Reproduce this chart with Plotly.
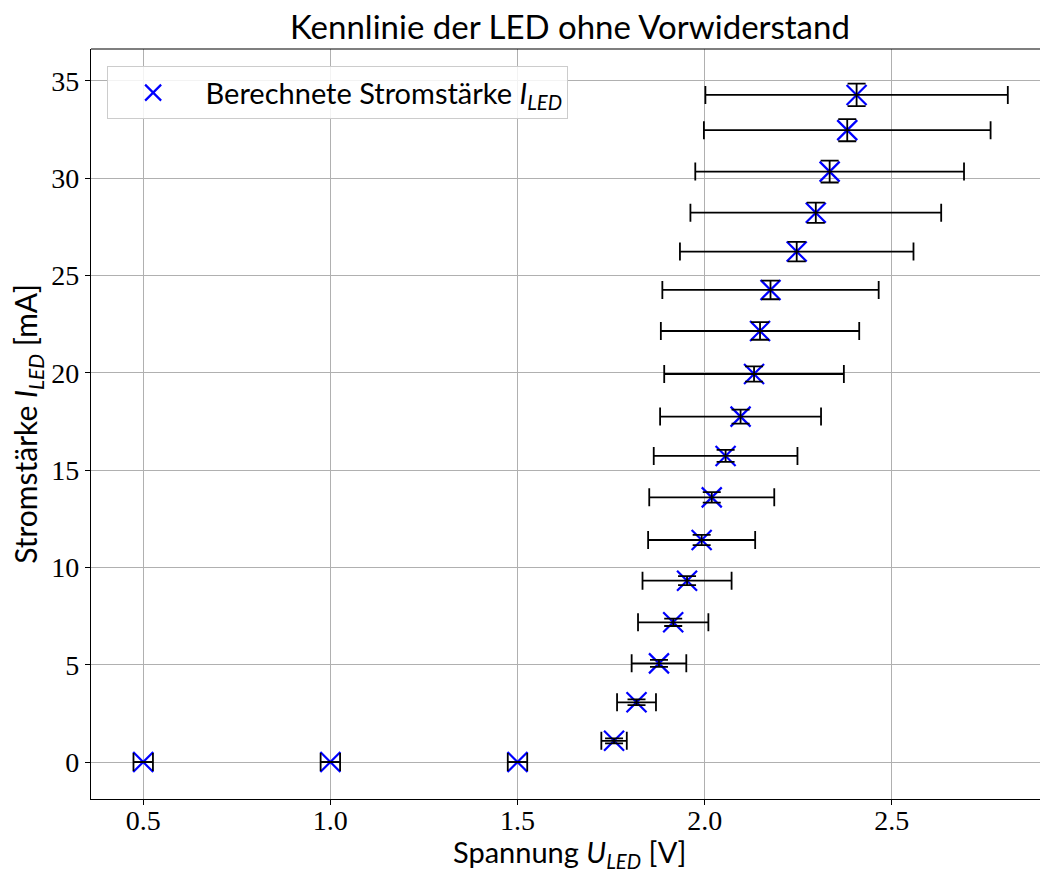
import plotly.graph_objects as go

# Data
U_led = [0.5, 1.0, 1.5, 1.758, 1.818, 1.878, 1.916, 1.953, 1.992, 2.019, 2.056,
         2.096, 2.132, 2.148, 2.176, 2.246, 2.297, 2.334, 2.381, 2.406]
I_led = [0.0, 0.0, 0.0, 1.09, 3.07, 5.07, 7.18, 9.32, 11.41, 13.60, 15.73,
         17.75, 19.94, 22.15, 24.26, 26.23, 28.23, 30.34, 32.47, 34.28]
U_err = [0.026, 0.026, 0.026, 0.034, 0.052, 0.073, 0.094, 0.119, 0.143, 0.167, 0.192,
         0.215, 0.240, 0.265, 0.289, 0.312, 0.335, 0.359, 0.383, 0.404]
I_err = [0.0, 0.0, 0.0, 0.13, 0.15, 0.18, 0.19, 0.23, 0.26, 0.27, 0.31,
         0.36, 0.39, 0.45, 0.48, 0.50, 0.52, 0.56, 0.57, 0.58]

x_ticks = [0.5, 1.0, 1.5, 2.0, 2.5]
x_ticklabels = ["0.5", "1.0", "1.5", "2.0", "2.5"]
y_ticks = [0, 5, 10, 15, 20, 25, 30, 35]

title = "Kennlinie der LED ohne Vorwiderstand"
legend_label = "&nbsp;Berechnete Stromstärke <i>I</i><sub><i>LED</i></sub>"
x_label = "Spannung <i>U</i><sub><i>LED</i></sub> [V]"
y_label = "Stromstärke <i>I</i><sub><i>LED</i></sub> [mA]"

SANS = "Lato, 'Open Sans', sans-serif"
SERIF = "'Liberation Serif', 'DejaVu Serif', serif"

fig = go.Figure()
fig.add_trace(go.Scatter(
    x=U_led, y=I_led, mode="markers", name=legend_label,
    marker=dict(symbol="x-thin", size=20, color="blue",
                line=dict(color="blue", width=2.2)),
))
fig.add_trace(go.Scatter(
    x=U_led, y=I_led, mode="markers", showlegend=False,
    marker=dict(size=2, color="rgba(0,0,0,0)"),
    error_x=dict(type="data", array=U_err, color="black", thickness=1.8, width=9),
    error_y=dict(type="data", array=I_err, color="black", thickness=1.8, width=9),
))

fig.add_shape(type="line", xref="paper", yref="paper", x0=0, x1=1, y0=1, y1=1,
              line=dict(color="black", width=1.2))

# x-axis label placed as annotation (axes in the reference are centred at ~570 px)
fig.add_annotation(text=x_label, xref="paper", yref="paper", x=0.5037, y=-0.072,
                   xanchor="center", yanchor="middle", showarrow=False,
                   font=dict(family=SANS, size=29, color="black"))

fig.update_layout(
    width=1040, height=873,
    margin=dict(l=91, r=0, t=49, b=74),
    paper_bgcolor="white", plot_bgcolor="white",
    title=dict(text=title, xref="paper", x=0.5047, xanchor="center", y=0.968, yanchor="middle",
               font=dict(family=SANS, size=33, color="black")),
    font=dict(family=SANS, color="black"),
    showlegend=True,
    legend=dict(x=0.017, y=0.977, xanchor="left", yanchor="top",
                bgcolor="rgba(255,255,255,0.85)", bordercolor="#cccccc", borderwidth=1,
                font=dict(family=SANS, size=29, color="black"),
                itemwidth=80),
)
fig.update_xaxes(
    range=[0.3605, 2.896], tickvals=x_ticks, ticktext=x_ticklabels,
    showgrid=True, gridcolor="#b0b0b0", gridwidth=1,
    showline=True, linecolor="black", linewidth=1.2, mirror=False,
    ticks="outside", ticklen=5, tickcolor="black", ticklabelstandoff=-9,
    tickfont=dict(family=SERIF, size=28, color="black"),
    zeroline=False,
)
fig.update_yaxes(
    range=[-1.90, 36.64], tickvals=y_ticks,
    showgrid=True, gridcolor="#b0b0b0", gridwidth=1,
    showline=True, linecolor="black", linewidth=1.2, mirror=False,
    ticks="outside", ticklen=5, tickcolor="black",
    tickfont=dict(family=SERIF, size=28, color="black"),
    title=dict(text=y_label, font=dict(family=SANS, size=30, color="black"), standoff=4),
    zeroline=False,
)

fig.write_html("out.html", config={"displayModeBar": False},
               post_script="document.body.style.margin='0';")
